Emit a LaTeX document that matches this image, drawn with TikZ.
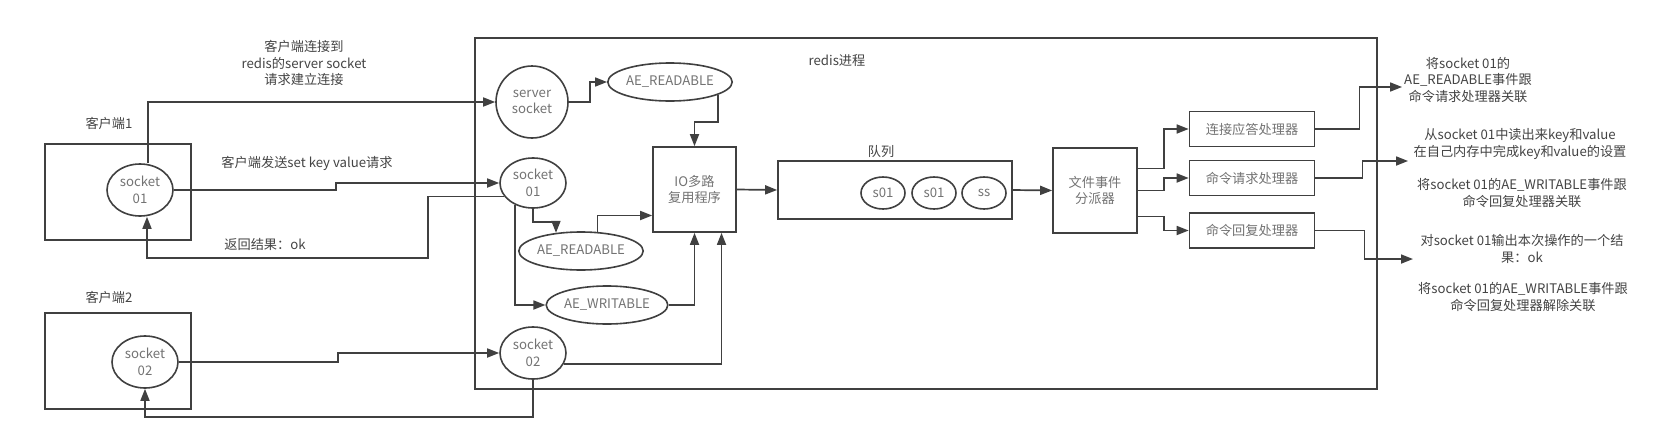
\documentclass[tikz,border=0pt]{standalone}
\usepackage{fontspec}
\setmainfont{Noto Sans CJK SC}
\usetikzlibrary{shapes.geometric,arrows.meta}
\definecolor{linec}{HTML}{404040}
\definecolor{inner}{HTML}{737373}
\definecolor{outer}{HTML}{444444}
\tikzset{
    box/.style={draw=linec,line width=1.7pt,inner sep=0pt,align=center,text=inner},
    sock/.style={ellipse,draw=linec,line width=1.6pt,inner sep=0pt,align=center,text=inner},
    conn/.style={draw=linec,line width=1.7pt,-{Triangle[length=12pt,width=9pt]}},
    note/.style={text=outer,align=center}
}
\begin{document}
\begin{tikzpicture}[x=1pt,y=-1pt,font=\fontsize{13.2}{16.5}\selectfont]
        \useasboundingbox[fill=white] (0,0) rectangle (1671,442);
        \node[box,minimum width=902pt,minimum height=351pt] (redis) at (926,213.5) {};
        \node[note] at (837,61) {redis进程};
        \node[box,minimum width=146pt,minimum height=96pt] (client1) at (118,192) {};
        \node[box,minimum width=146pt,minimum height=96pt] (client2) at (118,361) {};
        \node[note] at (109,123) {客户端1};
        \node[note] at (109,297) {客户端2};
        \node[sock,minimum width=66pt,minimum height=52pt] (c1sock) at (140,190) {socket\\01};
        \node[sock,minimum width=66pt,minimum height=52pt] (c2sock) at (145,362) {socket\\02};
        \node[sock,circle,minimum size=72pt] (servsock) at (532,102) {server\\socket};
        \node[sock,minimum width=66pt,minimum height=50pt] (sock01) at (533,183) {socket\\01};
        \node[sock,minimum width=66pt,minimum height=52pt] (sock02) at (533,353) {socket\\02};
        \node[sock,minimum width=114pt,minimum height=38pt] (readA) at (670,82) {AE\_READABLE};
        \node[sock,minimum width=112pt,minimum height=38pt] (readB) at (581,251) {AE\_READABLE};
        \node[sock,minimum width=114pt,minimum height=38pt] (writeB) at (607,305) {AE\_WRITABLE};
        \node[box,minimum width=83pt,minimum height=85pt] (io) at (694.5,189.5) {IO多路\\复用程序};
        \node[box,minimum width=234pt,minimum height=58pt] (queue) at (895,190) {};
        \node[note] at (881,152) {队列};
        \foreach \n/\x/\t in {qa/883/s01,qb/934/s01,qc/984/ss}
            \node[sock,minimum width=44pt,minimum height=32pt] (\n) at (\x,193) {\t};
        \node[box,minimum width=84pt,minimum height=85pt] (disp) at (1095,190.5) {文件事件\\分派器};
        \foreach \n/\y/\t in {h1/129/连接应答处理器,h2/178/命令请求处理器,h3/230.5/命令回复处理器}
            \node[box,minimum width=125pt,minimum height=35pt] (\n) at (1252,\y) {\t};
        \node[note] (connect) at (304,63) {客户端连接到\\redis的server socket\\请求建立连接};
        \node[note] (send) at (307,163) {客户端发送set key value请求};
        \node[note] (back) at (265,244) {返回结果：ok};
        \node[note] (n1) at (1468,80) {将socket 01的\\AE\_READABLE事件跟\\命令请求处理器关联};
        \node[note] (n2) at (1520,144) {从socket 01中读出来key和value\\在自己内存中完成key和value的设置};
        \node[note] (n3) at (1522,193) {将socket 01的AE\_WRITABLE事件跟\\命令回复处理器关联};
        \node[note] (n4) at (1522,249) {对socket 01输出本次操作的一个结\\果：ok};
        \node[note] (n5) at (1523,297) {将socket 01的AE\_WRITABLE事件跟\\命令回复处理器解除关联};
        \coordinate (e1) at (1402,87);
        \coordinate (e2) at (1408,161);
        \coordinate (e3) at (1413,259);
        \draw[conn] ([xshift=8pt]c1sock.north) |- (servsock.west);
        \draw[conn] (c1sock.east) -- (336,190) |- (sock01.west);
        \draw[conn] (sock01.205) -| (428,258) -| ([xshift=7pt]c1sock.south);
        \draw[conn] (c2sock.east) -- (338,362) |- (sock02.west);
        \draw[conn] (sock02.south) -- (533,417) -| (c2sock.south);
        \draw[conn] (servsock.east) -- (590,102) |- (readA.west);
        \draw[conn] (readA.-15) -- ++(0,27) -| (io.north);
        \draw[conn] (sock01.south) -- (533,222) -| (readB.144);
        \draw[conn] (sock01.230) |- (writeB.west);
        \draw[conn] (readB.49) |- ([yshift=-26pt]io.west);
        \draw[conn] (writeB.east) -| (io.south);
        \draw[conn] (sock02.-20) -| ([xshift=27pt]io.south);
        \draw[conn] (io.east) -- (queue.west);
        \draw[conn] (queue.east) -- (disp.west);
        \draw[conn] ([yshift=22pt]disp.east) -- ++(26,0) |- (h1.west);
        \draw[conn] (disp.east) -- ++(26,0) |- (h2.west);
        \draw[conn] ([yshift=-26pt]disp.east) -- ++(26,0) |- (h3.west);
        \draw[conn] (h1.east) -- ++(44,0) |- (e1);
        \draw[conn] (h2.east) -- ++(47,0) |- (e2);
        \draw[conn] (h3.east) -- ++(49,0) |- (e3);
\end{tikzpicture}
\end{document}
